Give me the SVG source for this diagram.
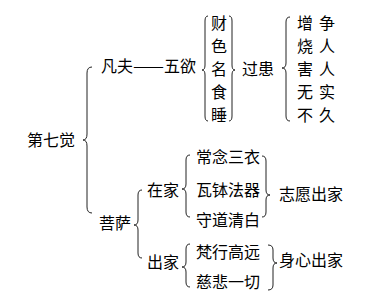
<svg xmlns="http://www.w3.org/2000/svg" width="386" height="305" viewBox="0 0 386 305">
<style>
text{font-family:"Noto Sans CJK SC","Noto Sans CJK TC",sans-serif;font-size:16px;fill:#000}
.b{fill:none;stroke:#222;stroke-width:1}
</style>
<rect width="386" height="305" fill="#fff"/>
<g id="connectors">
<path class="b" d="M92,67 Q87,67 87,73 L87,134 Q87,140 83,140 Q87,140 87,146 L87,207 Q87,213 92,213"/>
<path class="b" d="M208,16 Q205,16 205,21 L205,65 Q205,70 202,70 Q205,70 205,75 L205,116 Q205,121 208,121"/>
<path class="b" d="M229,16 Q232,16 232,21 L232,65 Q232,70 235,70 Q232,70 232,75 L232,116 Q232,121 229,121"/>
<path class="b" d="M290,17 Q286,17 286,22 L286,63 Q286,68 282,68 Q286,68 286,73 L286,116 Q286,121 290,121"/>
<path class="b" d="M142,190 Q138,190 138,195 L138,220 Q138,225 134,225 Q138,225 138,230 L138,253 Q138,258 142,258"/>
<path class="b" d="M190,155 Q186,155 186,160 L186,184 Q186,189 182,189 Q186,189 186,194 L186,212 Q186,217 190,217"/>
<path class="b" d="M262,156 Q266,156 266,161 L266,190 Q266,195 270,195 Q266,195 266,200 L266,212 Q266,217 262,217"/>
<path class="b" d="M190,244 Q186,244 186,249 L186,262 Q186,267 182,267 Q186,267 186,272 L186,282 Q186,287 190,287"/>
<path class="b" d="M268,245 Q273,245 273,250 L273,258 Q273,263 277,263 Q273,263 273,268 L273,285 Q273,290 268,290"/>
</g>
<g id="n-root"><text x="27" y="146">第七觉</text></g>
<g id="n-fanfu"><text x="101" y="72">凡夫<tspan x="133" textLength="31" lengthAdjust="spacingAndGlyphs">——</tspan><tspan x="164">五欲</tspan></text></g>
<g id="n-wuyu">
<text x="211" y="29">财</text>
<text x="211" y="52">色</text>
<text x="211" y="75">名</text>
<text x="211" y="98">食</text>
<text x="211" y="121">睡</text>
</g>
<g id="n-guohuan"><text x="242" y="75">过患</text></g>
<g id="n-huan">
<text x="297" y="29">增</text><text x="319" y="29">争</text>
<text x="297" y="52">烧</text><text x="319" y="52">人</text>
<text x="297" y="75">害</text><text x="319" y="75">人</text>
<text x="297" y="98">无</text><text x="319" y="98">实</text>
<text x="297" y="121">不</text><text x="319" y="121">久</text>
</g>
<g id="n-pusa"><text x="99" y="229">菩萨</text></g>
<g id="n-zaijia"><text x="147" y="196">在家</text></g>
<g id="n-chujia"><text x="147" y="268">出家</text></g>
<g id="n-zaijia-items">
<text x="196" y="163">常念三衣</text>
<text x="196" y="196">瓦钵法器</text>
<text x="196" y="226">守道清白</text>
</g>
<g id="n-zhiyuan"><text x="279" y="200">志愿出家</text></g>
<g id="n-chujia-items">
<text x="196" y="258">梵行高远</text>
<text x="196" y="288">慈悲一切</text>
</g>
<g id="n-shenxin"><text x="279" y="266">身心出家</text></g>
</svg>
